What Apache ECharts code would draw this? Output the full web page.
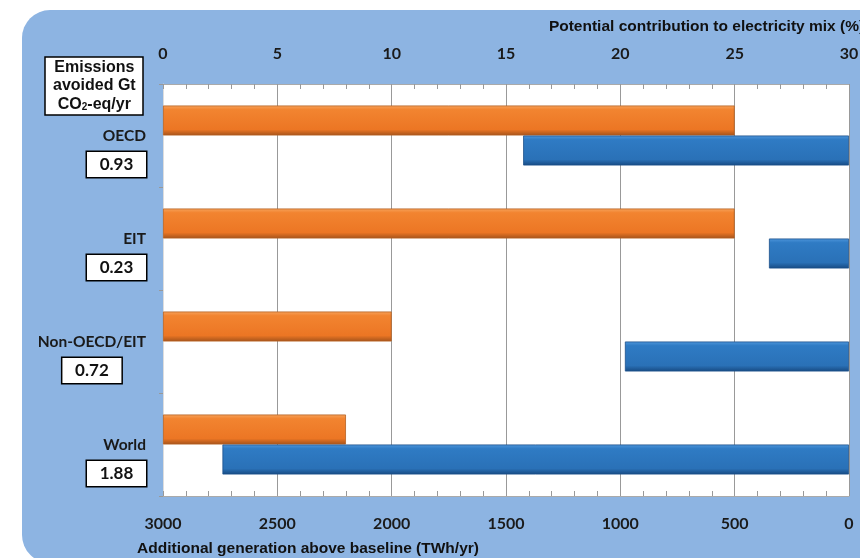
<!DOCTYPE html>
<html>
<head>
<meta charset="utf-8">
<style>
html,body{margin:0;padding:0;background:#fff;}
#chart{width:860px;height:558px;}
</style>
<script src="https://cdn.jsdelivr.net/npm/echarts@6/dist/echarts.min.js"></script>
</head>
<body>
<div id="chart"></div>
<script>
// ---- data ----
var categories = ['OECD', 'EIT', 'Non-OECD/EIT', 'World'];
var emissionsAvoided = ['0.93', '0.23', '0.72', '1.88'];
var mixPercent = [25, 25, 10, 8];          // top axis, %
var generationTWh = [1425, 350, 980, 2740]; // bottom axis (reversed), TWh/yr
var mixTicks = [0, 5, 10, 15, 20, 25, 30];
var genTicks = [0, 500, 1000, 1500, 2000, 2500, 3000];

var chart = echarts.init(document.getElementById('chart'));

var catIndex = {};
categories.forEach(function (c, i) { catIndex[c] = i; });

var orangeFill = new echarts.graphic.LinearGradient(0, 0, 0, 1, [
  { offset: 0, color: '#F7A35C' }, { offset: 0.14, color: '#F28430' },
  { offset: 0.8, color: '#EC7624' }, { offset: 1, color: '#A4531B' }
]);
var blueFill = new echarts.graphic.LinearGradient(0, 0, 0, 1, [
  { offset: 0, color: '#4F97DC' }, { offset: 0.14, color: '#2F7BC4' },
  { offset: 0.8, color: '#2A71B7' }, { offset: 1, color: '#174A82' }
]);

var tickLabelStyle = { fontFamily: 'Lato', fontWeight: 'bold', fontSize: 16, color: '#1a1a1a' };

chart.setOption({
  backgroundColor: '#ffffff',
  animation: false,
  graphic: [{
    type: 'rect', z: -10, silent: true,
    shape: { x: 22, y: 10, width: 880, height: 553, r: 28 },
    style: { fill: '#8DB4E2' }
  }],
  title: {
    left: 45, top: 55,
    text: '{a|Emissions}\n{a|avoided Gt}\n{a|CO}{s|2}{a|-eq/yr}',
    backgroundColor: '#ffffff', borderColor: '#000', borderWidth: 1.5,
    padding: [3, 8, 3, 8],
    textStyle: {
      rich: {
        a: { fontFamily: 'Liberation Sans', fontWeight: 'bold', fontSize: 16, color: '#111', lineHeight: 18.5, align: 'center' },
        s: { fontFamily: 'Liberation Sans', fontWeight: 'bold', fontSize: 10, color: '#111', lineHeight: 18.5, padding: [6, 0, 0, 0], align: 'center' }
      }
    }
  },
  grid: { left: 163, right: 11, top: 84, bottom: 62, containLabel: false, outerBoundsMode: 'none',
          show: true, backgroundColor: '#ffffff', borderWidth: 0 },
  xAxis: [{
    type: 'value', position: 'top', min: mixTicks[0], max: mixTicks[mixTicks.length - 1], interval: mixTicks[1] - mixTicks[0],
    name: 'Potential contribution to electricity mix (%)',
    nameLocation: 'middle', nameGap: 49,
    nameTextStyle: { fontFamily: 'Liberation Sans', fontWeight: 'bold', fontSize: 15.5, color: '#111', padding: [0, 0, 0, 401] },
    axisLine: { show: true, lineStyle: { color: '#AAAAAA', width: 1 } },
    axisTick: { show: true, inside: true, length: 5, lineStyle: { color: '#999' } },
    minorTick: { show: true, splitNumber: 5, length: 5, lineStyle: { color: '#999' } },
    axisLabel: Object.assign({ margin: 22, formatter: function (v) { return String(v); } }, tickLabelStyle),
    splitLine: { show: true, lineStyle: { color: '#999999', width: 1 } }
  }, {
    type: 'value', position: 'bottom', inverse: true, min: genTicks[0], max: genTicks[genTicks.length - 1], interval: genTicks[1] - genTicks[0],
    name: 'Additional generation above baseline (TWh/yr)',
    nameLocation: 'middle', nameGap: 45,
    nameTextStyle: { fontFamily: 'Liberation Sans', fontWeight: 'bold', fontSize: 15.5, color: '#111', padding: [0, 396, 0, 0] },
    axisLine: { show: true, lineStyle: { color: '#AAAAAA', width: 1 } },
    axisTick: { show: true, inside: true, length: 5, lineStyle: { color: '#999' } },
    minorTick: { show: true, splitNumber: 5, length: 5, lineStyle: { color: '#999' } },
    axisLabel: Object.assign({ margin: 20, formatter: function (v) { return String(v); } }, tickLabelStyle),
    splitLine: { show: false }
  }],
  yAxis: {
    type: 'category', inverse: true, data: categories,
    axisLine: { show: true, lineStyle: { color: '#DDDDDD' } },
    axisTick: { show: true, length: 4, lineStyle: { color: '#999' } },
    axisLabel: {
      margin: 17,
      formatter: function (v) {
        return '{s| }\n{n|' + v + '}\n{b|' + emissionsAvoided[catIndex[v]] + '}';
      },
      rich: {
        s: { height: 34, fontSize: 10 },
        n: { fontFamily: 'Lato', fontWeight: 'bold', fontSize: 15.5, color: '#1a1a1a', lineHeight: 24, align: 'right' },
        b: { fontFamily: 'Lato', fontWeight: 'bold', fontSize: 17, color: '#111', width: 59, height: 25, lineHeight: 34,
             align: 'center', backgroundColor: '#fff', borderColor: '#000', borderWidth: 1.5 }
      }
    }
  },
  series: [{
    type: 'bar', name: 'Potential contribution to electricity mix (%)',
    xAxisIndex: 0, data: mixPercent, barWidth: 30, barGap: '0%',
    itemStyle: { color: orangeFill, borderColor: '#B55F1F', borderWidth: 0.8 }
  }, {
    type: 'bar', name: 'Additional generation above baseline (TWh/yr)',
    xAxisIndex: 1, data: generationTWh, barWidth: 30, barGap: '0%',
    itemStyle: { color: blueFill, borderColor: '#1A4F8A', borderWidth: 0.8 }
  }]
});
</script>
</body>
</html>
